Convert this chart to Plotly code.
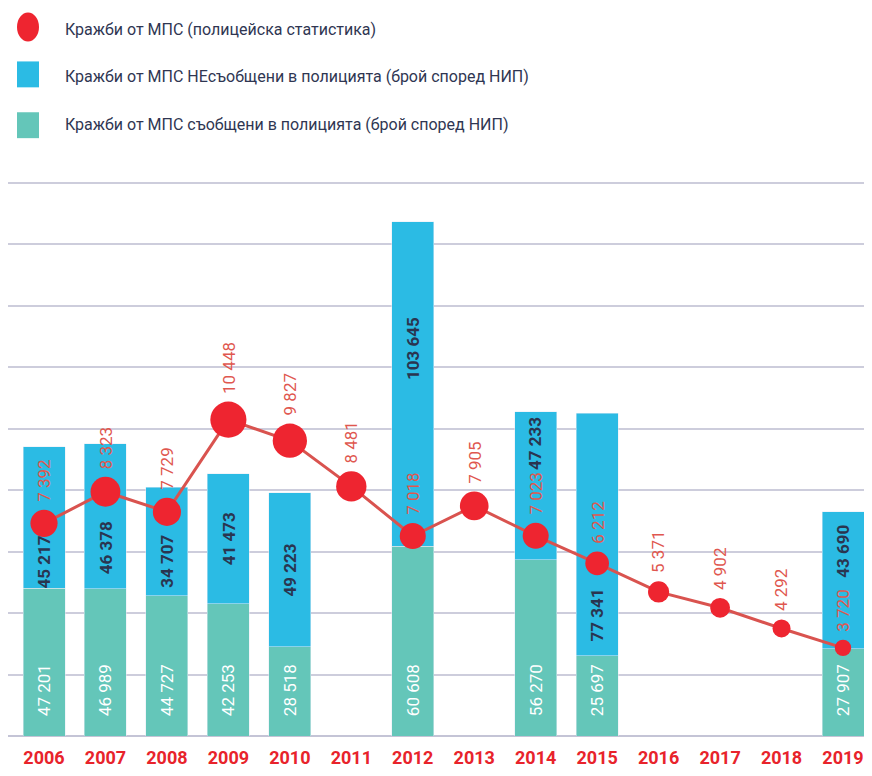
import plotly.graph_objects as go

# ---------------- data ----------------
years = ["2006", "2007", "2008", "2009", "2010", "2011", "2012",
         "2013", "2014", "2015", "2016", "2017", "2018", "2019"]
reported = [47201, 46989, 44727, 42253, 28518, None, 60608,
            None, 56270, 25697, None, None, None, 27907]
unreported = [45217, 46378, 34707, 41473, 49223, None, 103645,
              None, 47233, 77341, None, None, None, 43690]
police = [7392, 8323, 7729, 10448, 9827, 8481, 7018,
          7905, 7023, 6212, 5371, 4902, 4292, 3720]

legend_names = [
    "Кражби от МПС (полицейска статистика)",
    "Кражби от МПС НЕсъобщени в полицията (брой според НИП)",
    "Кражби от МПС съобщени в полицията (брой според НИП)",
]

# ---------------- style ----------------
FONT = "Roboto, sans-serif"
TEAL = "#64c6b9"
BLUE = "#2bbbe4"
RED = "#ee2530"
LINE_RED = "#d9534f"
LABEL_RED = "#e0574f"
NAVY = "#2a3550"
GRID = "#cdcddc"

OFF = 8                      # page body margin
W, H = 872 - 2 * OFF, 776 - 2 * OFF
TOP, BASE = 181, 738         # plot area top / bottom in page pixels
ML, MR = 0, 0
MT, MB = TOP - OFF, (H + OFF) - BASE
PW, PH = W - ML - MR, H - MT - MB
Y1_PER_PX = 176600 / 555
Y1MAX = Y1_PER_PX * PH
GRID_STEP = 19622
Y2MIN = 1123
Y2_PER_PX = (17424 - 1123) / 555
Y2MAX = Y2MIN + Y2_PER_PX * PH
LAB_SIZE = 17

FIRST_C, LAST_C = 44, 843    # first / last category centre, page px
STEP = (LAST_C - FIRST_C) / 13
X0 = -(FIRST_C - OFF) / STEP
X1 = 13 + (OFF + W - LAST_C) / STEP

xs = list(range(len(years)))


def fmt(v):
    return f"{v:,}".replace(",", " ")


def diam(v):
    return 5.4 + 0.00294 * v


def ypx(v):
    return BASE - v / Y1_PER_PX


def y2px(v):
    return BASE - (v - Y2MIN) / Y2_PER_PX


def px2y(p):
    return (BASE - p) * Y1_PER_PX


def label_len(s, size=LAB_SIZE):
    return sum((0.25 if c == " " else 0.562) * size for c in s)


def px_x(p):
    return (p - OFF - ML) / PW


def px_y(p):
    return (BASE - p) / PH


fig = go.Figure()

fig.add_trace(go.Bar(
    x=xs, y=reported, name=legend_names[2], marker_color=TEAL,
    text=["\u00a0\u00a0\u00a0\u00a0" + fmt(v) if v else "" for v in reported],
    textposition="inside", insidetextanchor="start", textangle=-90,
    textfont=dict(family=FONT, size=LAB_SIZE, color="white"),
    showlegend=False, hoverinfo="skip",
))
fig.add_trace(go.Bar(
    x=xs, y=unreported, name=legend_names[1], marker_color=BLUE,
    showlegend=False, hoverinfo="skip",
))
fig.add_trace(go.Scatter(
    x=xs, y=police, name=legend_names[0], yaxis="y2",
    mode="lines+markers",
    line=dict(color=LINE_RED, width=3),
    marker=dict(color=RED, size=[diam(v) for v in police],
                opacity=1, line=dict(width=0)),
    showlegend=False, hoverinfo="skip",
))

annotations = []
# red labels above the markers
for xi, v in zip(xs, police):
    annotations.append(dict(
        x=xi, y=v, xref="x", yref="y2", text=fmt(v), showarrow=False,
        textangle=-90, yanchor="bottom", xanchor="center",
        yshift=diam(v) / 2 + 6,
        font=dict(family=FONT, size=LAB_SIZE, color=LABEL_RED),
    ))

# blue-segment labels, placed in the largest free gap of the segment
for xi, t, b, v in zip(xs, reported, unreported, police):
    if b is None:
        continue
    seg_bot = ypx(t)
    seg_top = ypx(t + b)
    m = y2px(v)
    r = diam(v) / 2
    lab_top = m - r - 6 - label_len(fmt(v))
    lo = max(seg_top, m + r)
    below = seg_bot - lo
    hi = min(seg_bot, lab_top)
    above = hi - seg_top
    if below * 1.2 >= above:
        c = (lo + seg_bot) / 2
    else:
        c = (seg_top + hi) / 2
    annotations.append(dict(
        x=xi, y=px2y(c), xref="x", yref="y", text=fmt(b), showarrow=False,
        textangle=-90, yanchor="middle", xanchor="center",
        font=dict(family=FONT, size=LAB_SIZE, color=NAVY, weight="bold"),
    ))

# legend (manual)
shapes = [
    dict(type="circle", xref="paper", yref="paper",
         x0=px_x(17), x1=px_x(39), y0=px_y(41), y1=px_y(12),
         fillcolor=RED, line=dict(width=0)),
    dict(type="rect", xref="paper", yref="paper",
         x0=px_x(17), x1=px_x(39), y0=px_y(87), y1=px_y(61),
         fillcolor=BLUE, line=dict(width=0)),
    dict(type="rect", xref="paper", yref="paper",
         x0=px_x(17), x1=px_x(39), y0=px_y(138), y1=px_y(112),
         fillcolor=TEAL, line=dict(width=0)),
]
for name, cy in zip(legend_names, [29, 76, 124]):
    annotations.append(dict(
        x=px_x(63), y=px_y(cy), xref="paper", yref="paper", text=name,
        showarrow=False, xanchor="left", yanchor="middle",
        font=dict(family=FONT, size=16, color="#2f3652"),
    ))

fig.update_layout(
    width=W, height=H,
    margin=dict(l=ML, r=MR, t=MT, b=MB, pad=0),
    paper_bgcolor="white", plot_bgcolor="white",
    barmode="stack", bargap=1 - 42 / STEP,
    showlegend=False,
    annotations=annotations, shapes=shapes,
    xaxis=dict(
        range=[X0, X1], showgrid=False,
        tickmode="array", tickvals=xs, ticktext=years,
        showline=False, zeroline=False, ticks="",
        tickfont=dict(family=FONT, size=18, color="#e8232b", weight="bold"),
        ticklabelstandoff=9,
    ),
    yaxis=dict(
        range=[0, Y1MAX], tick0=0, dtick=GRID_STEP, showticklabels=False,
        showgrid=True, gridcolor=GRID, gridwidth=1.5,
        zeroline=True, zerolinecolor="#c4c4d6", zerolinewidth=2,
    ),
    yaxis2=dict(
        overlaying="y", range=[Y2MIN, Y2MAX], visible=False,
        showgrid=False, zeroline=False,
    ),
)

fig.write_html("out.html")
